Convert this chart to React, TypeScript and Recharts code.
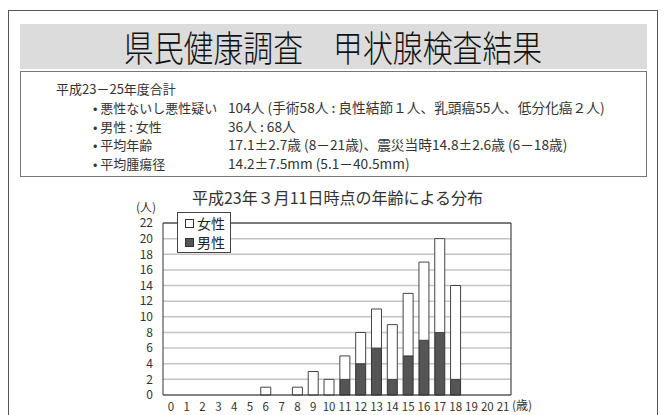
import { BarChart, Bar, XAxis, YAxis, CartesianGrid, Legend, ReferenceLine, Label } from 'recharts';

const ages = ['0', '1', '2', '3', '4', '5', '6', '7', '8', '9', '10', '11', '12', '13', '14', '15', '16', '17', '18', '19', '20', '21'];
const male = [0, 0, 0, 0, 0, 0, 0, 0, 0, 0, 0, 2, 4, 6, 2, 5, 7, 8, 2, 0, 0, 0];
const female = [0, 0, 0, 0, 0, 0, 1, 0, 1, 3, 2, 3, 4, 5, 7, 8, 10, 12, 12, 0, 0, 0];
const yTicks = [0, 2, 4, 6, 8, 10, 12, 14, 16, 18, 20, 22];

const summaryRows = [
  { label: '悪性ないし悪性疑い', value: '104人 (手術58人 : 良性結節１人、乳頭癌55人、低分化癌２人)' },
  { label: '男性 : 女性', value: '36人 : 68人' },
  { label: '平均年齢', value: '17.1±2.7歳 (8－21歳)、震災当時14.8±2.6歳 (6－18歳)' },
  { label: '平均腫瘍径', value: '14.2±7.5mm (5.1－40.5mm)' },
];

const data = ages.map((age, i) => ({ age, male: male[i], female: female[i] }));

const FONT = '"Noto Sans CJK JP", "Noto Sans", sans-serif';

function LegendBox() {
  const item = (fill: string, text: string) => (
    <div style={{ display: 'flex', alignItems: 'center', height: 19, overflow: 'hidden' }}>
      <span style={{ display: 'inline-block', width: 9, height: 9, border: '1px solid #333', background: fill, marginRight: 3, boxSizing: 'border-box' }} />
      <span style={{ lineHeight: '17px' }}>{text}</span>
    </div>
  );
  return (
    <div style={{ width: 54, height: 41, boxSizing: 'border-box', border: '1px solid #444', background: '#fff', padding: '1px 0 0 7px', fontSize: 14, color: '#222', fontFamily: FONT }}>
      {item('#fff', '女性')}
      {item('#555', '男性')}
    </div>
  );
}

export default function App() {
  return (
    <div style={{ position: 'absolute', left: 0, top: 0, width: 667, height: 415, overflow: 'hidden', background: '#fff', fontFamily: FONT, color: '#333' }}>
      {/* outer frame */}
      <div style={{ position: 'absolute', left: 8, top: 10, width: 650, height: 420, border: '1px solid #555', boxSizing: 'border-box' }} />
      {/* title band */}
      <div style={{ position: 'absolute', left: 20, top: 24, width: 627, height: 45, background: '#dcdcdc', textAlign: 'center', fontSize: 36, lineHeight: '45px', fontWeight: 300, color: '#111' }}>
        <span style={{ display: 'inline-block', transform: 'scaleX(0.83)', whiteSpace: 'nowrap' }}>県民健康調査　甲状腺検査結果</span>
      </div>
      {/* summary box */}
      <div style={{ position: 'absolute', left: 20, top: 71, width: 627, height: 106, border: '1px solid #777', boxSizing: 'border-box', fontSize: 13, color: '#333' }}>
        <div style={{ position: 'absolute', left: 35, top: 8, lineHeight: '18px' }}>平成23－25年度合計</div>
        {summaryRows.map((r, i) => (
          <div key={r.label} style={{ position: 'absolute', left: 72, top: 26 + i * 18.7, lineHeight: '18px', whiteSpace: 'nowrap' }}>
            <span style={{ display: 'inline-block', width: 135 }}>• {r.label}</span>
            <span style={{ fontSize: 13.7 }}>{r.value}</span>
          </div>
        ))}
      </div>
      {/* chart subtitle */}
      <div style={{ position: 'absolute', left: 0, top: 187, width: 675, textAlign: 'center', fontSize: 16, lineHeight: '20px', color: '#333' }}>
        平成23年３月11日時点の年齢による分布
      </div>
      <div style={{ position: 'absolute', left: 0, top: 0 }}>
        <BarChart width={667} height={415} data={data} margin={{ top: 223, right: 155, bottom: 2, left: 133 }} barCategoryGap="18%">
          <CartesianGrid vertical={false} stroke="#c4c4c4" strokeWidth={1.5} />
          <XAxis dataKey="age" height={18} tickLine={false} axisLine={{ stroke: '#333' }} interval={0}
            tick={{ fontSize: 11.5, fill: '#333', fontFamily: FONT }} tickMargin={2}>
            <Label content={({ viewBox }: any) => (
              <text x={viewBox.x + viewBox.width + 1} y={viewBox.y + 15} fontSize={12} fill="#333" fontFamily={FONT}>(歳)</text>
            )} />
          </XAxis>
          <YAxis width={30} domain={[0, 22]} ticks={yTicks} interval={0} tickLine={false} axisLine={{ stroke: '#333' }}
            tick={{ fontSize: 12, fill: '#333', fontFamily: FONT }} tickMargin={4}>
            <Label content={({ viewBox }: any) => (
              <text x={viewBox.x + 3} y={viewBox.y - 11} fontSize={12} fill="#333" fontFamily={FONT}>(人)</text>
            )} />
          </YAxis>
          <YAxis yAxisId="right" orientation="right" width={1} domain={[0, 22]} tick={false} tickLine={false} axisLine={{ stroke: '#222' }} />
          <ReferenceLine y={22} stroke="#222" strokeWidth={1} />
          <Legend layout="vertical" align="center" verticalAlign="middle" content={() => <LegendBox />}
            wrapperStyle={{ position: 'absolute', left: 177, top: 212, width: 'auto', height: 'auto' }} />
          <Bar dataKey="male" stackId="a" fill="#555" stroke="#333" strokeWidth={1} isAnimationActive={false} />
          <Bar dataKey="female" stackId="a" fill="#fff" stroke="#444" strokeWidth={1} isAnimationActive={false} />
        </BarChart>
      </div>
    </div>
  );
}
